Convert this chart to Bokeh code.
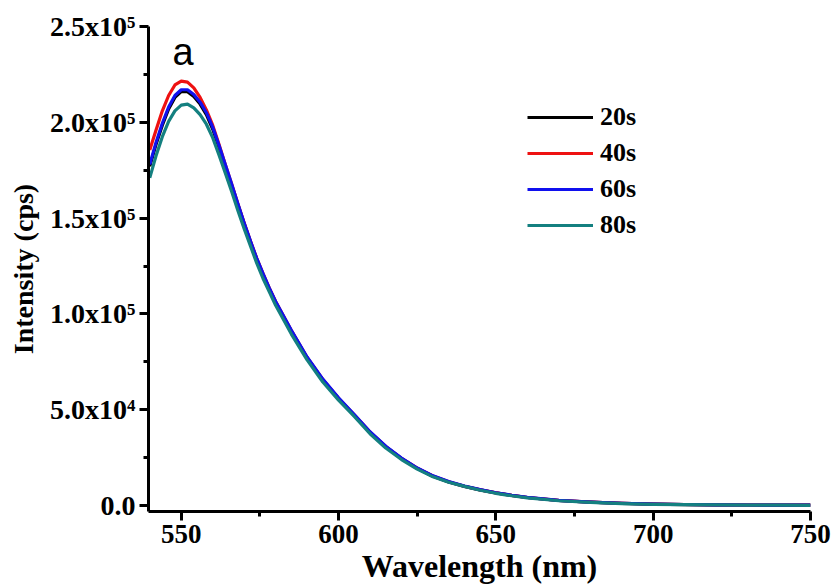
from bokeh.plotting import figure
from bokeh.models import (FixedTicker, Range1d, Legend, LegendItem, Label)
from bokeh.embed import file_html
from bokeh.resources import INLINE

# ---- data ----
wavelength = [540, 542, 544, 546, 548, 550, 552, 554, 556, 558, 560, 562, 564, 566, 568,
              570, 572, 574, 576, 578, 580, 585, 590, 595, 600, 605, 610, 615, 620, 625,
              630, 635, 640, 645, 650, 655, 660, 670, 680, 690, 700, 710, 720, 730, 740, 750]

s20 = [177000, 188500, 198500, 207000, 213000, 216000, 216000, 213500, 209500, 204000,
       196500, 187000, 177000, 167000, 157000, 147000, 137500, 128500, 120500, 113000,
       106000, 91000, 77000, 65500, 55800, 47000, 38200, 30700, 24500, 19400,
       15300, 12300, 10000, 8200, 6600, 5300, 4200, 2650, 1750, 1150, 750, 520, 380, 280, 230, 180]

s40 = [185500, 196000, 206000, 214000, 219500, 221500, 221000, 218000, 213000, 206500,
       198500, 188500, 178000, 168000, 157500, 147500, 138000, 129000, 121000, 113500,
       106500, 91300, 77300, 65800, 56000, 47300, 38300, 30800, 24600, 19500,
       15400, 12400, 10100, 8200, 6600, 5300, 4200, 2700, 1800, 1200, 800, 550, 400, 300, 250, 200]

s60 = [178000, 189500, 199500, 208000, 214000, 217000, 217000, 214500, 210500, 205000,
       197500, 188000, 178000, 168000, 157500, 147500, 138000, 129000, 121000, 113500,
       106500, 91500, 77500, 66000, 56200, 47500, 38500, 31000, 24800, 19600,
       15500, 12500, 10200, 8300, 6700, 5400, 4300, 2700, 1800, 1200, 800, 550, 400, 300, 250, 200]

s80 = [171000, 182500, 192500, 200500, 206000, 209000, 209500, 207500, 204000, 199000,
       192000, 183000, 173500, 164000, 154000, 144500, 135500, 126500, 118500, 111500,
       104500, 89500, 76000, 64500, 55000, 46500, 37500, 30000, 24000, 19000,
       15000, 12200, 10000, 8000, 6400, 5100, 4000, 2500, 1650, 1050, 650, 450, 320, 240, 180, 130]

series_names = ["20s", "40s", "60s", "80s"]
series_values = [s20, s40, s60, s80]
series_colors = ["#000000", "#ee1111", "#1010ee", "#148080"]

x_ticks = [550, 600, 650, 700, 750]
x_minor = [575, 625, 675, 725]
y_ticks = [0, 50000, 100000, 150000, 200000, 250000]
y_minor = [25000, 75000, 125000, 175000, 225000]
y_tick_labels = ["0.0", "5.0x10\u2074", "1.0x10\u2075", "1.5x10\u2075", "2.0x10\u2075", "2.5x10\u2075"]

panel_letter = "a"

# ---- figure ----
p = figure(width=834, height=586, output_backend="svg", toolbar_location=None,
           x_range=Range1d(539.6, 750), y_range=Range1d(-3100, 250000),
           min_border_left=148, min_border_right=24, min_border_top=26, min_border_bottom=74)
p.outline_line_color = None
p.grid.visible = False
p.background_fill_color = "white"
p.border_fill_color = "white"

serif = "Liberation Serif"

for ax in (p.xaxis[0], p.yaxis[0]):
    ax.axis_line_width = 3
    ax.major_tick_line_width = 3
    ax.minor_tick_line_width = 3
    ax.major_tick_out = 9
    ax.major_tick_in = 0
    ax.minor_tick_out = 5
    ax.minor_tick_in = 0
    ax.major_label_text_font = serif
    ax.major_label_text_font_style = "bold"
    ax.major_label_text_color = "black"
    ax.axis_label_text_font = serif
    ax.axis_label_text_font_style = "bold"
    ax.axis_label_text_color = "black"

p.xaxis.major_label_text_font_size = "27px"
p.yaxis.major_label_text_font_size = "28px"
p.xaxis.axis_label_text_font_size = "32px"
p.yaxis.axis_label_text_font_size = "28px"

p.xaxis.ticker = FixedTicker(ticks=x_ticks, minor_ticks=x_minor)
p.yaxis.ticker = FixedTicker(ticks=y_ticks, minor_ticks=y_minor)
p.yaxis.major_label_overrides = {t: l for t, l in zip(y_ticks, y_tick_labels)}
p.xaxis.major_label_standoff = 4
p.yaxis.major_label_standoff = 4
p.xaxis.axis_label = "Wavelength (nm)"
p.yaxis.axis_label = "Intensity (cps)"
p.xaxis.axis_label_standoff = 2
p.yaxis.axis_label_standoff = 8

items = []
for name, vals, col in zip(series_names, series_values, series_colors):
    r = p.line(wavelength, vals, line_color=col, line_width=3.2, line_join="round")
    items.append(LegendItem(label=name, renderers=[r]))

legend = Legend(items=items, location=(379, 268), orientation="vertical",
                glyph_width=66, glyph_height=36, label_height=36, spacing=0,
                padding=0, margin=0, label_standoff=7,
                label_text_font=serif, label_text_font_style="bold",
                label_text_font_size="26px", label_text_color="black",
                border_line_color=None, background_fill_alpha=0)
p.add_layout(legend)

p.add_layout(Label(x=547.2, y=236500, text=panel_letter, text_font="Liberation Sans",
                   text_font_size="38px", text_color="black", text_baseline="alphabetic"))

open("out.html", "w").write(file_html(p, INLINE))
